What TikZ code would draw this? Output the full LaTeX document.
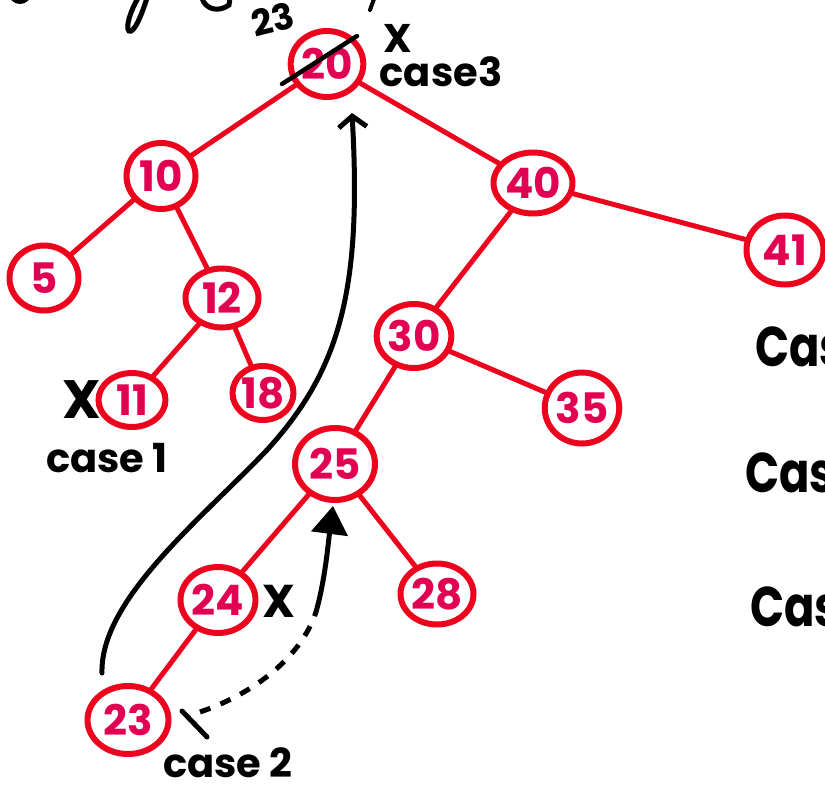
\documentclass[tikz,border=0pt]{standalone}
\usepackage{fontspec}
\setmainfont{Poppins}
\usetikzlibrary{shapes.geometric,arrows.meta}
\definecolor{tred}{RGB}{236,4,30}
\definecolor{tpink}{RGB}{226,0,82}
\begin{document}
\begin{tikzpicture}[x=1pt,y=-1pt,
  bnode/.style={ellipse, draw=tred, line width=6pt, inner sep=0pt, text=tpink,
    font=\fontsize{42}{44}\selectfont\bfseries},
  edge/.style={draw=tred, line width=5pt, line cap=round},
  ink/.style={draw=black, line width=5pt, line cap=round},
  lbl/.style={font=\fontsize{40}{42}\selectfont\bfseries, text=black, inner sep=0pt},
  xsign/.style={font=\fontsize{#1}{#1}\selectfont\bfseries, text=black, inner sep=0pt},
  bigcase/.style={font=\fontsize{56}{58}\selectfont\bfseries, text=black, inner sep=0pt, anchor=west, xscale=0.8}
]
\useasboundingbox (0,0) rectangle (825,787);
\clip (0,0) rectangle (825,787);

% tree nodes
\node[bnode, minimum width=66pt, minimum height=66pt] (n20) at (327,64) {20};
\node[bnode, minimum width=69pt, minimum height=66pt] (n10) at (161,176) {10};
\node[bnode, minimum width=69pt, minimum height=65pt] (n5) at (44,278) {5};
\node[bnode, minimum width=73pt, minimum height=59pt] (n12) at (222,298) {12};
\node[bnode, minimum width=74pt, minimum height=61pt] (n40) at (533,183) {40};
\node[bnode, minimum width=72pt, minimum height=64pt] (n30) at (414,336) {30};
\node[bnode, minimum width=77pt, minimum height=69pt] (n41) at (785,250) {41};
\node[bnode, minimum width=67pt, minimum height=54pt] (n11) at (132,400) {11};
\node[bnode, minimum width=61pt, minimum height=54pt] (n18) at (263,393) {18};
\node[bnode, minimum width=74pt, minimum height=71pt] (n35) at (582,408) {35};
\node[bnode, minimum width=80pt, minimum height=72pt] (n25) at (335,464) {25};
\node[bnode, minimum width=75pt, minimum height=66pt] (n24) at (218,600) {24};
\node[bnode, minimum width=73pt, minimum height=61pt] (n28) at (437,594) {28};
\node[bnode, minimum width=81pt, minimum height=68pt] (n23) at (128,720) {23};

% tree edges
\draw[edge] (n20) -- (n10);
\draw[edge] (n20) -- (n40);
\draw[edge] (n10) -- (n5);
\draw[edge] (n10) -- (n12);
\draw[edge] (n12) -- (n11);
\draw[edge] (n12) -- (n18);
\draw[edge] (n40) -- (n41);
\draw[edge] (n40) -- (n30);
\draw[edge] (n30) -- (n35);
\draw[edge] (n30) -- (n25);
\draw[edge] (n25) -- (n24);
\draw[edge] (n25) -- (n28);
\draw[edge] (n24) -- (n23);

% annotations near root
\draw[ink, line width=4.5pt] (282,84) -- (357,36);
\node[xsign=36, rotate=14] (t23) at (273,19) {23};
\node[xsign=40] (x20) at (398,38) {X};
\node[lbl] (c3) at (441,72) {case3};

% case 1
\node[xsign=54] (x11) at (82,400) {X};
\node[lbl] (c1) at (107,458) {case 1};

% case 2
\node[xsign=46] (x24) at (279,601) {X};
\node[lbl] (c2) at (228,763) {case 2};
\draw[ink] (182,711) -- (207,737);

% long arrow from 23 up to root
\coordinate (a1) at (102,673);
\coordinate (a2) at (352,113);
\draw[ink, -{Straight Barb[length=11pt,width=28pt,line width=5pt]}]
  (a1) .. controls (100,600) and (200,520) .. (267,450)
       .. controls (340,370) and (362,290) .. (a2);

% dashed arrow from 23 up to 25
\coordinate (d1) at (200,712);
\coordinate (d2) at (316,612);
\coordinate (d3) at (333,506);
\draw[ink, dash pattern=on 11pt off 11pt, line cap=butt] (d1) .. controls (250,695) and (300,660) .. (d2);
\draw[ink, -{Triangle[length=28pt,width=36pt]}] (d2) .. controls (325,580) and (328,545) .. (d3);

% right-side labels cut by the edge
\node[bigcase] (r1) at (755,347) {Case};
\node[bigcase] (r2) at (745,473) {Case};
\node[bigcase] (r3) at (750,607) {Case};

% fragments of the cut-off title at the top
\draw[ink, line width=5pt] (147,-2) .. controls (142,14) and (134,34) .. (129,31) .. controls (125,27) and (131,10) .. (138,-2);
\draw[ink, line width=5pt] (202,-2) .. controls (205,9) and (218,13) .. (229,5) -- (230,-2);
\draw[ink, line width=4pt] (13,-1) .. controls (17,3) and (23,3) .. (27,-1);
\draw[ink, line width=4pt] (374,-1) -- (370,10);
\end{tikzpicture}
\end{document}
